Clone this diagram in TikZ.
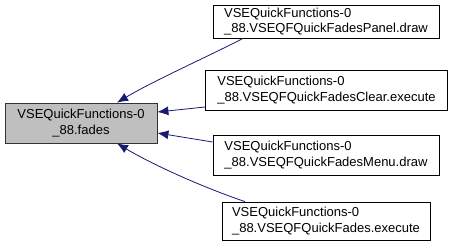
\documentclass[tikz,border=0pt]{standalone}
\usepackage{fontspec}
\setmainfont{Liberation Sans}
\usetikzlibrary{arrows.meta}
\definecolor{edgeblue}{HTML}{191970}
\definecolor{mainfill}{HTML}{BFBFBF}
\begin{document}
\begin{tikzpicture}[x=1pt,y=-1pt,
  box/.style={draw=black, line width=0.8pt, fill=white, inner sep=0pt, align=left,
    font=\fontsize{13}{15.5}\selectfont},
  mainbox/.style={box, fill=mainfill, draw=black!80, align=center},
  link/.style={draw=edgeblue, line width=0.8pt, -{Latex[length=11pt,width=9pt]}}]
\useasboundingbox (0,0) rectangle (453,247);

% callee
\node[mainbox, minimum width=152pt, minimum height=40pt] (fades) at (81,123)
  {VSEQuickFunctions-0\\\_88.fades};

% callers
\node[box, minimum width=226pt, minimum height=33pt] (panel) at (326,21.5)
  {VSEQuickFunctions-0\\\_88.VSEQFQuickFadesPanel.draw};
\node[box, minimum width=242pt, minimum height=40pt] (clear) at (326.5,90)
  {VSEQuickFunctions-0\\\_88.VSEQFQuickFadesClear.execute};
\node[box, minimum width=226pt, minimum height=40pt] (menu) at (326,155)
  {VSEQuickFunctions-0\\\_88.VSEQFQuickFadesMenu.draw};
\node[box, minimum width=208pt, minimum height=38pt] (quick) at (326,221)
  {VSEQuickFunctions-0\\\_88.VSEQFQuickFades.execute};

% call edges
\draw[link] ([xshift=-83pt]panel.south) .. controls (205,58) and (155,80) .. ([xshift=36pt]fades.north);
\draw[link] ([yshift=-17pt]clear.west) -- ([yshift=11pt]fades.east);
\draw[link] ([yshift=13pt]menu.west) -- ([yshift=-10pt]fades.east);
\draw[link] ([xshift=-81pt]quick.north) .. controls (205,188) and (155,166) .. ([xshift=36pt]fades.south);
\end{tikzpicture}
\end{document}
